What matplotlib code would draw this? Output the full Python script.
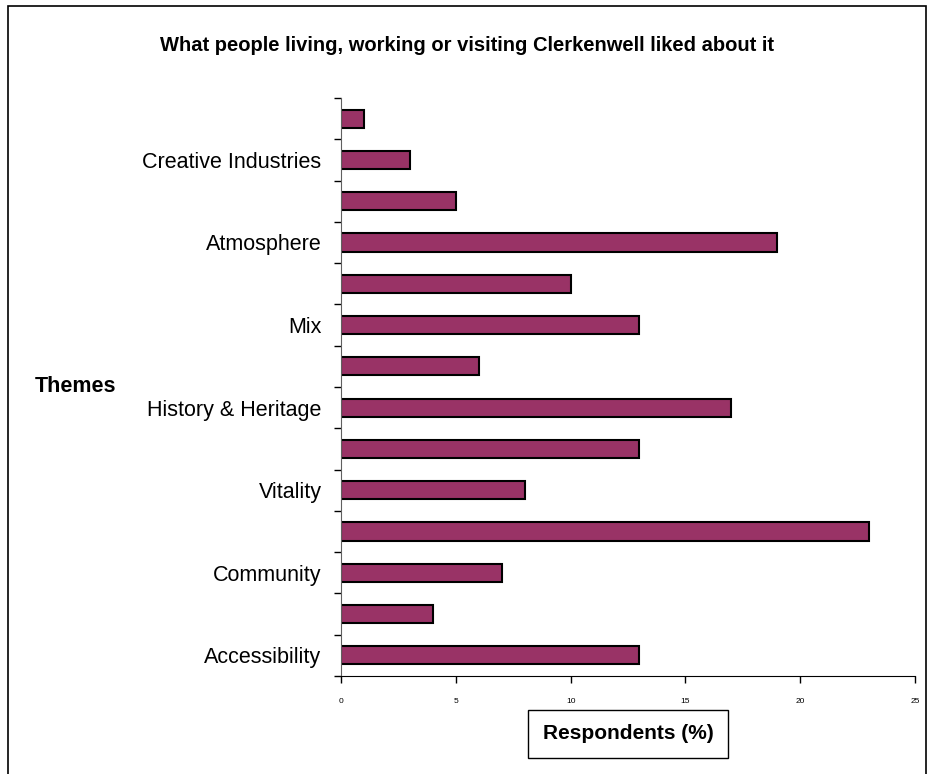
import numpy as np
import matplotlib.pyplot as plt
from matplotlib.patches import Rectangle

plt.rcParams['font.family'] = ['Liberation Sans', 'DejaVu Sans']

# categories bottom to top; only every other one has a label
themes = ["Accessibility", "", "Community", "", "Vitality", "",
          "History & Heritage", "", "Mix", "", "Atmosphere", "",
          "Creative Industries", ""]
values = [13, 4, 7, 23, 8, 13, 17, 6, 13, 10, 19, 5, 3, 1]
xticks = [0, 5, 10, 15, 20, 25]

fig = plt.figure(figsize=(9.33, 7.74), dpi=100)
ax = fig.add_axes([0.3655, 0.1266, 0.6152, 0.7468])

y = np.arange(len(values))
ax.barh(y, values, height=0.44, color="#993366", edgecolor="black", linewidth=1.5)

ax.set_xlim(0, 25)
ax.set_ylim(-0.5, len(values) - 0.5)
ax.set_xticks(xticks)
ax.set_xticklabels([str(t) for t in xticks], fontsize=6)
ax.tick_params(axis="x", direction="out", length=5, width=1, pad=11)

# boundary ticks without labels, labels at category centres
ax.set_yticks(np.arange(len(values) + 1) - 0.5)
ax.set_yticklabels([])
ax.tick_params(axis="y", which="major", direction="out", length=5, width=1)
ax.set_yticks(y, minor=True)
ax.set_yticklabels(themes, minor=True, fontsize=15.5)
ax.tick_params(axis="y", which="minor", length=0, pad=14)

for s in ["top", "right"]:
    ax.spines[s].set_visible(False)
ax.spines["left"].set_color("#606060")

fig.text(0.5, 0.9406, "What people living, working or visiting Clerkenwell liked about it",
         ha="center", va="center", fontsize=14.5, fontweight="bold")
fig.text(0.037, 0.501, "Themes", ha="left", va="center", fontsize=15.5, fontweight="bold")

# x-axis title in its own box
fig.patches.append(Rectangle((0.566, 0.0207), 0.2144, 0.062, transform=fig.transFigure,
                             facecolor="white", edgecolor="black", linewidth=1))
fig.text(0.673, 0.0517, "Respondents (%)", ha="center", va="center", fontsize=15,
         fontweight="bold")

# outer chart frame (bottom edge runs off the image)
fig.patches.append(Rectangle((0.009, -0.05), 0.983, 1.042, transform=fig.transFigure,
                             fill=False, edgecolor="black", linewidth=1.2))

fig.savefig("out.png", dpi=100)
